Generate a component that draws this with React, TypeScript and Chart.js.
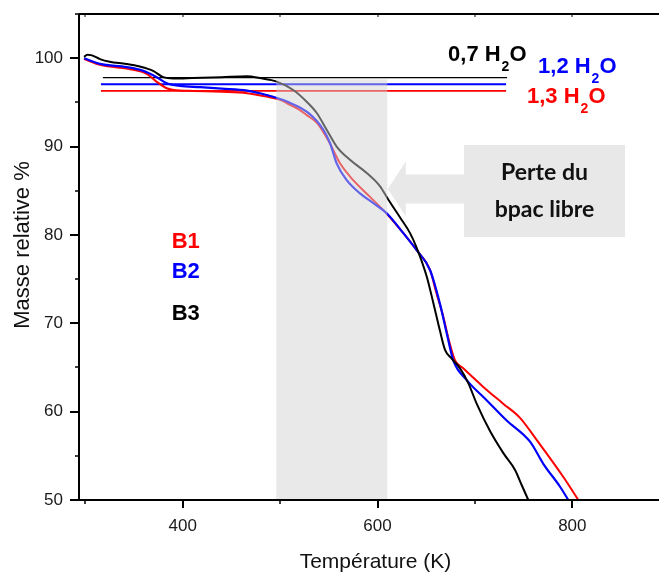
import React, { useEffect, useRef } from 'react';
import { Chart, registerables } from 'chart.js';

Chart.register(...registerables);

// Axis ranges and ticks
const X_MIN = 293.5;
const X_MAX = 889;
const Y_MIN = 50;
const Y_MAX = 105;
const xTickValues = [300, 400, 500, 600, 700, 800];
const xTickLabels = ['', '400', '', '600', '', '800'];
const yTickValues = [50, 55, 60, 65, 70, 75, 80, 85, 90, 95, 100, 105];
const yTickLabels = ['50', '', '60', '', '70', '', '80', '', '90', '', '100', ''];

// B1 (red)
const tempsB1 = [298.7, 315, 349, 363, 373, 383.6, 397, 411, 440, 466, 486, 500, 507, 520, 527, 538, 551, 561.5, 575, 592, 609, 626.5, 640, 654, 660, 667.6, 673, 679.6, 688, 708.6, 729, 746.3, 763.4, 790.8, 806.2];
const massB1 = [99.9, 99.24, 98.68, 98.22, 97.35, 96.6, 96.33, 96.3, 96.2, 96.04, 95.65, 95.28, 94.9, 94.15, 93.58, 92.64, 90.37, 88.1, 86.2, 84.33, 82.45, 80.2, 78.3, 76.0, 73.6, 70.7, 68.2, 65.8, 64.9, 62.8, 60.9, 59.3, 56.8, 52.6, 50];

// B2 (blue)
const tempsB2 = [298.7, 315, 342.5, 359.5, 373.3, 383.6, 397, 418, 440, 466, 486, 507, 529, 544.4, 551.2, 558, 568.4, 582, 595.7, 609.4, 626.5, 640, 654, 664, 671, 677.8, 691.6, 712, 732.6, 756.6, 770.2, 787.4, 795.9];
const massB2 = [100, 99.35, 98.98, 98.56, 97.85, 97.17, 96.86, 96.72, 96.55, 96.33, 95.84, 95.09, 93.8, 91.9, 90.4, 88.1, 86.2, 84.7, 83.6, 82.45, 80.2, 78.3, 76.0, 72.25, 68.9, 65.8, 63.57, 61.3, 59.0, 56.6, 54.1, 51.5, 50];

// B3 (black)
const tempsB3 = [298.7, 302, 306, 315, 325, 342, 356, 369.6, 380, 390, 410, 440, 466, 479, 496.5, 513.5, 527, 537.6, 547.8, 558, 571.7, 588.9, 602.6, 611, 623, 633.4, 640, 650.5, 657.3, 664, 669.3, 676.2, 684.7, 693.3, 701.8, 715.5, 729.2, 741.2, 748, 754.8];
const massB3 = [100.15, 100.4, 100.35, 99.9, 99.6, 99.35, 99.05, 98.56, 97.85, 97.7, 97.75, 97.85, 97.95, 97.75, 97.35, 96.4, 95.1, 93.8, 91.9, 90.0, 88.5, 87.0, 85.5, 84.0, 82.0, 80.2, 78.6, 75.3, 72.3, 69.2, 67.0, 66.0, 64.9, 63.2, 60.9, 57.8, 55.3, 53.4, 51.7, 50];

// Water plateau levels (B3, B2, B1)
const waterLabels = ['0,7', '1,2', '1,3'];
const waterLevels = [97.8, 97.05, 96.3];
const waterStartT = [318, 316, 316];
const waterEndT = [733, 732, 732];
const waterColors = ['#000000', '#0000ff', '#ff0000'];
const waterWidths = [1.4, 2, 1.6];
const waterLabelT = [672.4, 764.8, 753.5];
const waterLabelV = [99.73, 98.34, 94.94];

// Series labels
const seriesNames = ['B1', 'B2', 'B3'];
const seriesColors = ['#ff0000', '#0000ff', '#000000'];
const seriesLabelT = 388.7;
const seriesLabelV = [78.55, 75.12, 70.36];

// Shaded zone (free bpac loss)
const zoneT = [496, 610];
const zoneTop = 97.6;

// Annotation box / arrow (data units)
const boxT = [688.8, 854.1];
const boxV = [90.18, 79.76];
const arrowTipT = 610.5;
const arrowHeadT = 629;
const arrowMidV = 85.2;
const arrowHeadHalf = 3.1;
const arrowShaftHalf = 1.65;
const boxText = ['Perte du', 'bpac libre'];

const FONT = '"Liberation Sans", Arial, Helvetica, sans-serif';

function pts(t: number[], m: number[]) {
  return t.map((x, i) => ({ x, y: m[i] }));
}

const decoPlugin = {
  id: 'deco',
  afterDatasetsDraw(chart: any) {
    const { ctx, scales } = chart;
    const x = scales.x;
    const y = scales.y;
    ctx.save();
    ctx.fillStyle = 'rgba(209,209,209,0.48)';
    const x0 = x.getPixelForValue(zoneT[0]);
    const x1 = x.getPixelForValue(zoneT[1]);
    const y0 = y.getPixelForValue(zoneTop);
    const y1 = y.getPixelForValue(Y_MIN);
    ctx.fillRect(x0, y0, x1 - x0, y1 - y0);
    ctx.restore();
  },
  afterDraw(chart: any) {
    const { ctx, scales, chartArea } = chart;
    const x = scales.x;
    const y = scales.y;
    const L = chartArea.left;
    const B = chartArea.bottom;
    const T = chartArea.top;
    const R = chartArea.right;
    ctx.save();
    ctx.strokeStyle = '#000';
    // axis lines
    ctx.lineWidth = 2;
    ctx.beginPath();
    ctx.moveTo(L, T);
    ctx.lineTo(L, B);
    ctx.moveTo(L - 1, B);
    ctx.lineTo(R, B);
    ctx.moveTo(L, T);
    ctx.lineTo(R, T);
    ctx.stroke();
    // x ticks
    x.ticks.forEach((tk: any) => {
      const px = Math.round(x.getPixelForValue(tk.value));
      const major = tk.label !== '';
      ctx.lineWidth = major ? 2 : 1.5;
      ctx.beginPath();
      ctx.moveTo(px, B);
      ctx.lineTo(px, B + (major ? 8 : 4));
      ctx.stroke();
      ctx.lineWidth = 1;
      ctx.beginPath();
      ctx.moveTo(px, T);
      ctx.lineTo(px, T + 3);
      ctx.stroke();
    });
    // y ticks
    y.ticks.forEach((tk: any) => {
      const py = Math.round(y.getPixelForValue(tk.value));
      const major = tk.label !== '';
      ctx.lineWidth = major ? 2 : 1.5;
      ctx.beginPath();
      ctx.moveTo(L, py);
      ctx.lineTo(L - (major ? 9 : 4), py);
      ctx.stroke();
    });

    // axis titles
    ctx.fillStyle = '#111';
    ctx.textAlign = 'center';
    ctx.textBaseline = 'middle';
    ctx.font = `21px ${FONT}`;
    ctx.fillText('Température (K)', 375.5, 562.5);
    ctx.save();
    ctx.translate(23, 245);
    ctx.rotate(-Math.PI / 2);
    ctx.font = `22px ${FONT}`;
    ctx.fillText('Masse relative %', 0, 0);
    ctx.restore();

    // arrow
    const tipX = x.getPixelForValue(arrowTipT);
    const headX = x.getPixelForValue(arrowHeadT);
    const bx0 = x.getPixelForValue(boxT[0]);
    const bx1 = x.getPixelForValue(boxT[1]);
    const by0 = y.getPixelForValue(boxV[0]);
    const by1 = y.getPixelForValue(boxV[1]);
    const midY = y.getPixelForValue(arrowMidV);
    const headTop = y.getPixelForValue(arrowMidV + arrowHeadHalf);
    const headBot = y.getPixelForValue(arrowMidV - arrowHeadHalf);
    const shTop = y.getPixelForValue(arrowMidV + arrowShaftHalf);
    const shBot = y.getPixelForValue(arrowMidV - arrowShaftHalf);
    ctx.fillStyle = '#e8e8e8';
    ctx.beginPath();
    ctx.moveTo(tipX, midY);
    ctx.lineTo(headX, headTop);
    ctx.lineTo(headX, shTop);
    ctx.lineTo(bx0 + 1, shTop);
    ctx.lineTo(bx0 + 1, shBot);
    ctx.lineTo(headX, shBot);
    ctx.lineTo(headX, headBot);
    ctx.closePath();
    ctx.fill();
    ctx.fillRect(bx0, by0, bx1 - bx0, by1 - by0);
    // box text
    ctx.fillStyle = '#111';
    ctx.textAlign = 'center';
    ctx.textBaseline = 'alphabetic';
    ctx.font = `bold 23px Lato, "Open Sans", sans-serif`;
    const cx = (bx0 + bx1) / 2;
    ctx.fillText(boxText[0], cx, by0 + 35);
    ctx.fillText(boxText[1], cx, by0 + 72);

    // series labels
    ctx.textAlign = 'left';
    ctx.font = `bold 22px ${FONT}`;
    seriesNames.forEach((n, i) => {
      ctx.fillStyle = seriesColors[i];
      ctx.fillText(n, x.getPixelForValue(seriesLabelT), y.getPixelForValue(seriesLabelV[i]));
    });

    // water labels
    waterLabels.forEach((lab, i) => {
      let px = x.getPixelForValue(waterLabelT[i]);
      const py = y.getPixelForValue(waterLabelV[i]);
      ctx.fillStyle = waterColors[i];
      ctx.font = `bold 22px ${FONT}`;
      const main = lab + ' H';
      ctx.fillText(main, px, py);
      px += ctx.measureText(main).width;
      ctx.font = `bold 14px ${FONT}`;
      ctx.fillText('2', px + 1, py + 10);
      px += ctx.measureText('2').width + 1;
      ctx.font = `bold 22px ${FONT}`;
      ctx.fillText('O', px, py);
    });
    ctx.restore();
  },
};

export default function App() {
  const ref = useRef<HTMLCanvasElement | null>(null);
  useEffect(() => {
    document.body.style.margin = '0';
    const canvas = ref.current!;
    const curveBase = {
      pointRadius: 0,
      fill: false,
      cubicInterpolationMode: 'monotone' as const,
    };
    const datasets: any[] = [
      { label: 'B3', data: pts(tempsB3, massB3), borderColor: '#000000', borderWidth: 2, ...curveBase },
      { label: 'B2', data: pts(tempsB2, massB2), borderColor: '#0000ff', borderWidth: 2.2, ...curveBase },
      { label: 'B1', data: pts(tempsB1, massB1), borderColor: '#ff0000', borderWidth: 2, ...curveBase },
    ];
    waterLevels.forEach((lv, i) => {
      datasets.push({
        label: 'H2O ' + waterLabels[i],
        data: [{ x: waterStartT[i], y: lv }, { x: waterEndT[i], y: lv }],
        borderColor: waterColors[i],
        borderWidth: waterWidths[i],
        pointRadius: 0,
        tension: 0,
        fill: false,
      });
    });
    const tickFont = { family: FONT, size: 17 };
    const chart = new Chart(canvas, {
      type: 'line',
      data: { datasets },
      options: {
        animation: false,
        responsive: false,
        layout: { padding: { top: 14, right: 0, left: 0, bottom: 0 } },
        plugins: { legend: { display: false }, tooltip: { enabled: false } },
        scales: {
          x: {
            type: 'linear',
            min: X_MIN,
            max: X_MAX,
            afterBuildTicks: (s: any) => {
              s.ticks = xTickValues.map((v) => ({ value: v }));
            },
            afterFit: (s: any) => {
              s.height = 74;
              s.paddingLeft = 0;
              s.paddingRight = 0;
            },
            grid: { display: false, drawTicks: false },
            border: { display: false },
            ticks: {
              autoSkip: false,
              maxRotation: 0,
              minRotation: 0,
              padding: 16,
              color: '#1a1a1a',
              font: tickFont,
              callback: (v: any) => {
                const i = xTickValues.indexOf(Number(v));
                return i >= 0 ? xTickLabels[i] : '';
              },
            },
          },
          y: {
            type: 'linear',
            min: Y_MIN,
            max: Y_MAX,
            afterBuildTicks: (s: any) => {
              s.ticks = yTickValues.map((v) => ({ value: v }));
            },
            afterFit: (s: any) => {
              s.width = 79;
              s.paddingTop = 0;
              s.paddingBottom = 0;
            },
            grid: { display: false, drawTicks: false },
            border: { display: false },
            ticks: {
              autoSkip: false,
              padding: 16,
              color: '#1a1a1a',
              font: tickFont,
              callback: (v: any) => {
                const i = yTickValues.indexOf(Number(v));
                return i >= 0 ? yTickLabels[i] : '';
              },
            },
          },
        },
      } as any,
      plugins: [decoPlugin],
    });
    return () => chart.destroy();
  }, []);
  return (
    <div style={{ width: 659, height: 574 }}>
      <canvas ref={ref} width={659} height={574} style={{ display: 'block' }} />
    </div>
  );
}
